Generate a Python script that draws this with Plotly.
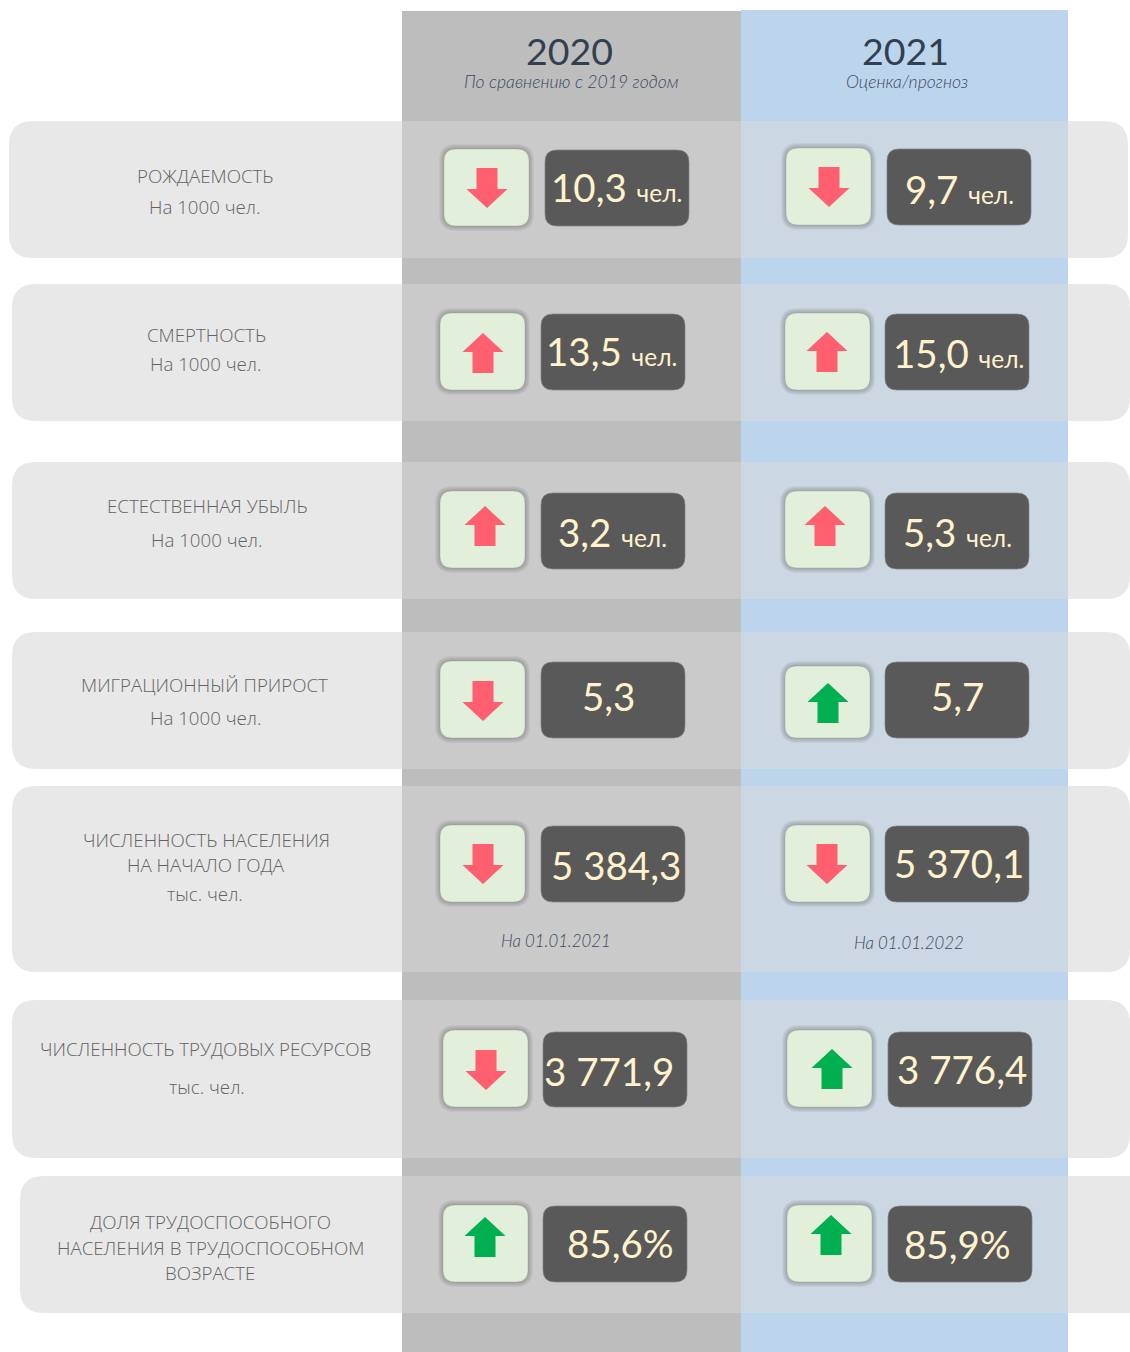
import plotly.graph_objects as go

# ---------- data ----------
years = ["2020", "2021"]
year_notes = ["По сравнению с 2019 годом", "Оценка/прогноз"]
row_lines = [
    ["РОЖДАЕМОСТЬ", "На 1000 чел."],
    ["СМЕРТНОСТЬ", "На 1000 чел."],
    ["ЕСТЕСТВЕННАЯ УБЫЛЬ", "На 1000 чел."],
    ["МИГРАЦИОННЫЙ ПРИРОСТ", "На 1000 чел."],
    ["ЧИСЛЕННОСТЬ НАСЕЛЕНИЯ", "НА НАЧАЛО ГОДА", "тыс. чел."],
    ["ЧИСЛЕННОСТЬ ТРУДОВЫХ РЕСУРСОВ", "тыс. чел."],
    ["ДОЛЯ ТРУДОСПОСОБНОГО", "НАСЕЛЕНИЯ В ТРУДОСПОСОБНОМ", "ВОЗРАСТЕ"],
]
values_2020 = ["10,3", "13,5", "3,2", "5,3", "5 384,3", "3 771,9", "85,6%"]
values_2021 = ["9,7", "15,0", "5,3", "5,7", "5 370,1", "3 776,4", "85,9%"]
units = ["чел.", "чел.", "чел.", "", "", "", ""]
arrows_2020 = ["down", "up", "up", "down", "down", "down", "up"]
arrows_2021 = ["down", "up", "up", "up", "down", "up", "up"]
colors_2020 = ["red", "red", "red", "red", "red", "red", "green"]
colors_2021 = ["red", "red", "red", "green", "red", "green", "green"]
date_notes = ["На 01.01.2021", "На 01.01.2022"]

# ---------- page geometry (pixels) ----------
W, H = 1130, 1352
GRAY, BLUE, ROW, GRAY_ON, BLUE_ON = "#bdbdbd", "#bcd5ed", "#e8e8e8", "#cacaca", "#cbd7e2"
ROW_BOX = [(9, 1128, 121, 258), (12, 1130, 284, 421), (12, 1130, 462, 599), (12, 1130, 632, 769),
           (12, 1130, 786, 972), (12, 1130, 1000, 1158), (20, 1160, 1176, 1313)]
LABEL_POS = [[(205, 175), (204, 206.5)], [(206, 334), (205, 363.5)], [(207, 505), (206, 539)],
             [(204, 684.5), (205, 717)], [(206, 839), (206, 864), (205, 893)],
             [(205, 1048), (207, 1086)], [(210, 1221), (210, 1247), (210, 1272.5)]]
ICON_W, BOX_W = 85, 144
ICON_2020 = [(444, 149, 226), (440, 313, 390), (440, 491, 568), (440, 661, 738), (440, 825, 902), (443, 1030, 1107), (443, 1205, 1282)]
ICON_2021 = [(786, 148, 225), (785, 313, 390), (785, 491, 568), (785, 666, 738), (785, 825, 902), (787, 1030, 1107), (787, 1205, 1282)]
BOX_2020 = [(545, 150, 226), (541, 314, 390), (541, 493, 569), (541, 662, 738), (541, 826, 902), (543, 1032, 1107), (543, 1206, 1282)]
BOX_2021 = [(887, 149, 225), (885, 314, 390), (885, 493, 569), (885, 662, 738), (885, 826, 902), (888, 1032, 1107), (888, 1206, 1282)]
ARROW_2020 = [(487, 188), (483, 353), (485, 526), (483, 701), (483, 864), (486, 1070), (485, 1237)]
ARROW_2021 = [(829, 187), (827, 352), (825, 526), (828, 703), (827, 864), (832, 1069), (831, 1235)]
TEXT_2020 = [(616, 187), (611.5, 351), (612, 532), (608.5, 696), (616, 865), (608.5, 1071), (620, 1243)]
TEXT_2021 = [(959.5, 189), (958.5, 353), (957, 532), (957.5, 696), (959, 863), (961.5, 1069), (957, 1244)]

LABEL_FONT = "Open Sans"
VALUE_FONT = "Lato, Carlito, Open Sans"
ARROW_COLOR = {"red": "#ff5f6f", "green": "#00b050"}


def rr(x0, x1, y0, y1, r):
    return (f"M{x0+r},{y0} L{x1-r},{y0} Q{x1},{y0} {x1},{y0+r} L{x1},{y1-r} Q{x1},{y1} {x1-r},{y1} "
            f"L{x0+r},{y1} Q{x0},{y1} {x0},{y1-r} L{x0},{y0+r} Q{x0},{y0} {x0+r},{y0} Z")


shapes, annotations = [], []


def path(d, fill, line=None, lw=0):
    shapes.append(dict(type="path", path=d, fillcolor=fill, layer="above",
                       line=dict(color=line or "rgba(0,0,0,0)", width=lw)))


def rect(x0, x1, y0, y1, fill):
    shapes.append(dict(type="rect", x0=x0, x1=x1, y0=y0, y1=y1, fillcolor=fill, layer="above", line_width=0))


def text(x, y, s, size, color, font=LABEL_FONT, italic=False, weight=None):
    f = dict(family=font, size=size, color=color)
    if italic:
        f["style"] = "italic"
    if weight:
        f["weight"] = weight
    annotations.append(dict(x=x, y=y, xref="x", yref="y", text=s, showarrow=False, xanchor="center",
                            yanchor="middle", font=f))


def arrow(cx, cy, direction, color):
    s = 1 if direction == "down" else -1
    top, neck, tip = cy - 20 * s, cy + 1 * s, cy + 20 * s
    d = (f"M{cx-10.5},{top} L{cx+10.5},{top} L{cx+10.5},{neck} L{cx+20.5},{neck} L{cx},{tip} "
         f"L{cx-20.5},{neck} L{cx-10.5},{neck} Z")
    path(d, ARROW_COLOR[color])


# row bands
for x0, x1, y0, y1 in ROW_BOX:
    path(rr(x0, x1, y0, y1, 24), ROW)
# columns
rect(402, 741, 11, H, GRAY)
rect(741, 1068, 10, H, BLUE)
for x0, x1, y0, y1 in ROW_BOX:
    rect(402, 741, y0, y1, GRAY_ON)
    rect(741, 1068, y0, y1, BLUE_ON)

for i, lines in enumerate(row_lines):
    for s, (x, y) in zip(lines, LABEL_POS[i]):
        text(x, y, s, 18.7, "#636363", weight=300)

for col, (icons, boxes, arrs, txts, vals, dirs, cols) in enumerate([
    (ICON_2020, BOX_2020, ARROW_2020, TEXT_2020, values_2020, arrows_2020, colors_2020),
    (ICON_2021, BOX_2021, ARROW_2021, TEXT_2021, values_2021, arrows_2021, colors_2021),
]):
    for i in range(len(row_lines)):
        ix, iy0, iy1 = icons[i]
        for g in range(5, 0, -1):
            path(rr(ix - g, ix + ICON_W + g, iy0 - g, iy1 + g, 12 + g), "rgba(70,70,70,0.065)")
        path(rr(ix, ix + ICON_W, iy0, iy1, 12), "#e2efda", "rgba(150,150,150,0.35)", 1)
        arrow(arrs[i][0], arrs[i][1], dirs[i], cols[i])
        bx, by0, by1 = boxes[i]
        path(rr(bx, bx + BOX_W, by0, by1, 12), "#595959", "rgba(130,130,130,0.7)", 1)
        tx, ty = txts[i]
        s = vals[i]
        if units[i]:
            s = f'{s} <span style="font-size:24.5px">{units[i]}</span>'
        text(tx, ty, s, 38.5, "#fff2cc", font=VALUE_FONT)

# headers
for y, n, (xa, ya), (xb, yb) in zip(years, year_notes, [(569, 50.5), (905, 50.5)], [(571, 81.5), (907, 81.5)]):
    text(xa, ya, y, 37.5, "#323f4f", font=VALUE_FONT)
    text(xb, yb, n, 17.6, "#3c4a60", font=VALUE_FONT, italic=True, weight=300)
for s, (x, y) in zip(date_notes, [(556, 940), (909, 942)]):
    text(x, y, s, 16.8, "#3c4a60", font=VALUE_FONT, italic=True, weight=300)

fig = go.Figure()
fig.update_layout(width=W, height=H, margin=dict(l=0, r=0, t=0, b=0), paper_bgcolor="white", plot_bgcolor="white",
                  showlegend=False, shapes=shapes, annotations=annotations,
                  xaxis=dict(range=[0, W], visible=False, fixedrange=True),
                  yaxis=dict(range=[H, 0], visible=False, fixedrange=True))
fig.write_html("out.html", post_script="document.body.style.margin='0';document.body.style.overflow='hidden';",
               config={"displayModeBar": False})
